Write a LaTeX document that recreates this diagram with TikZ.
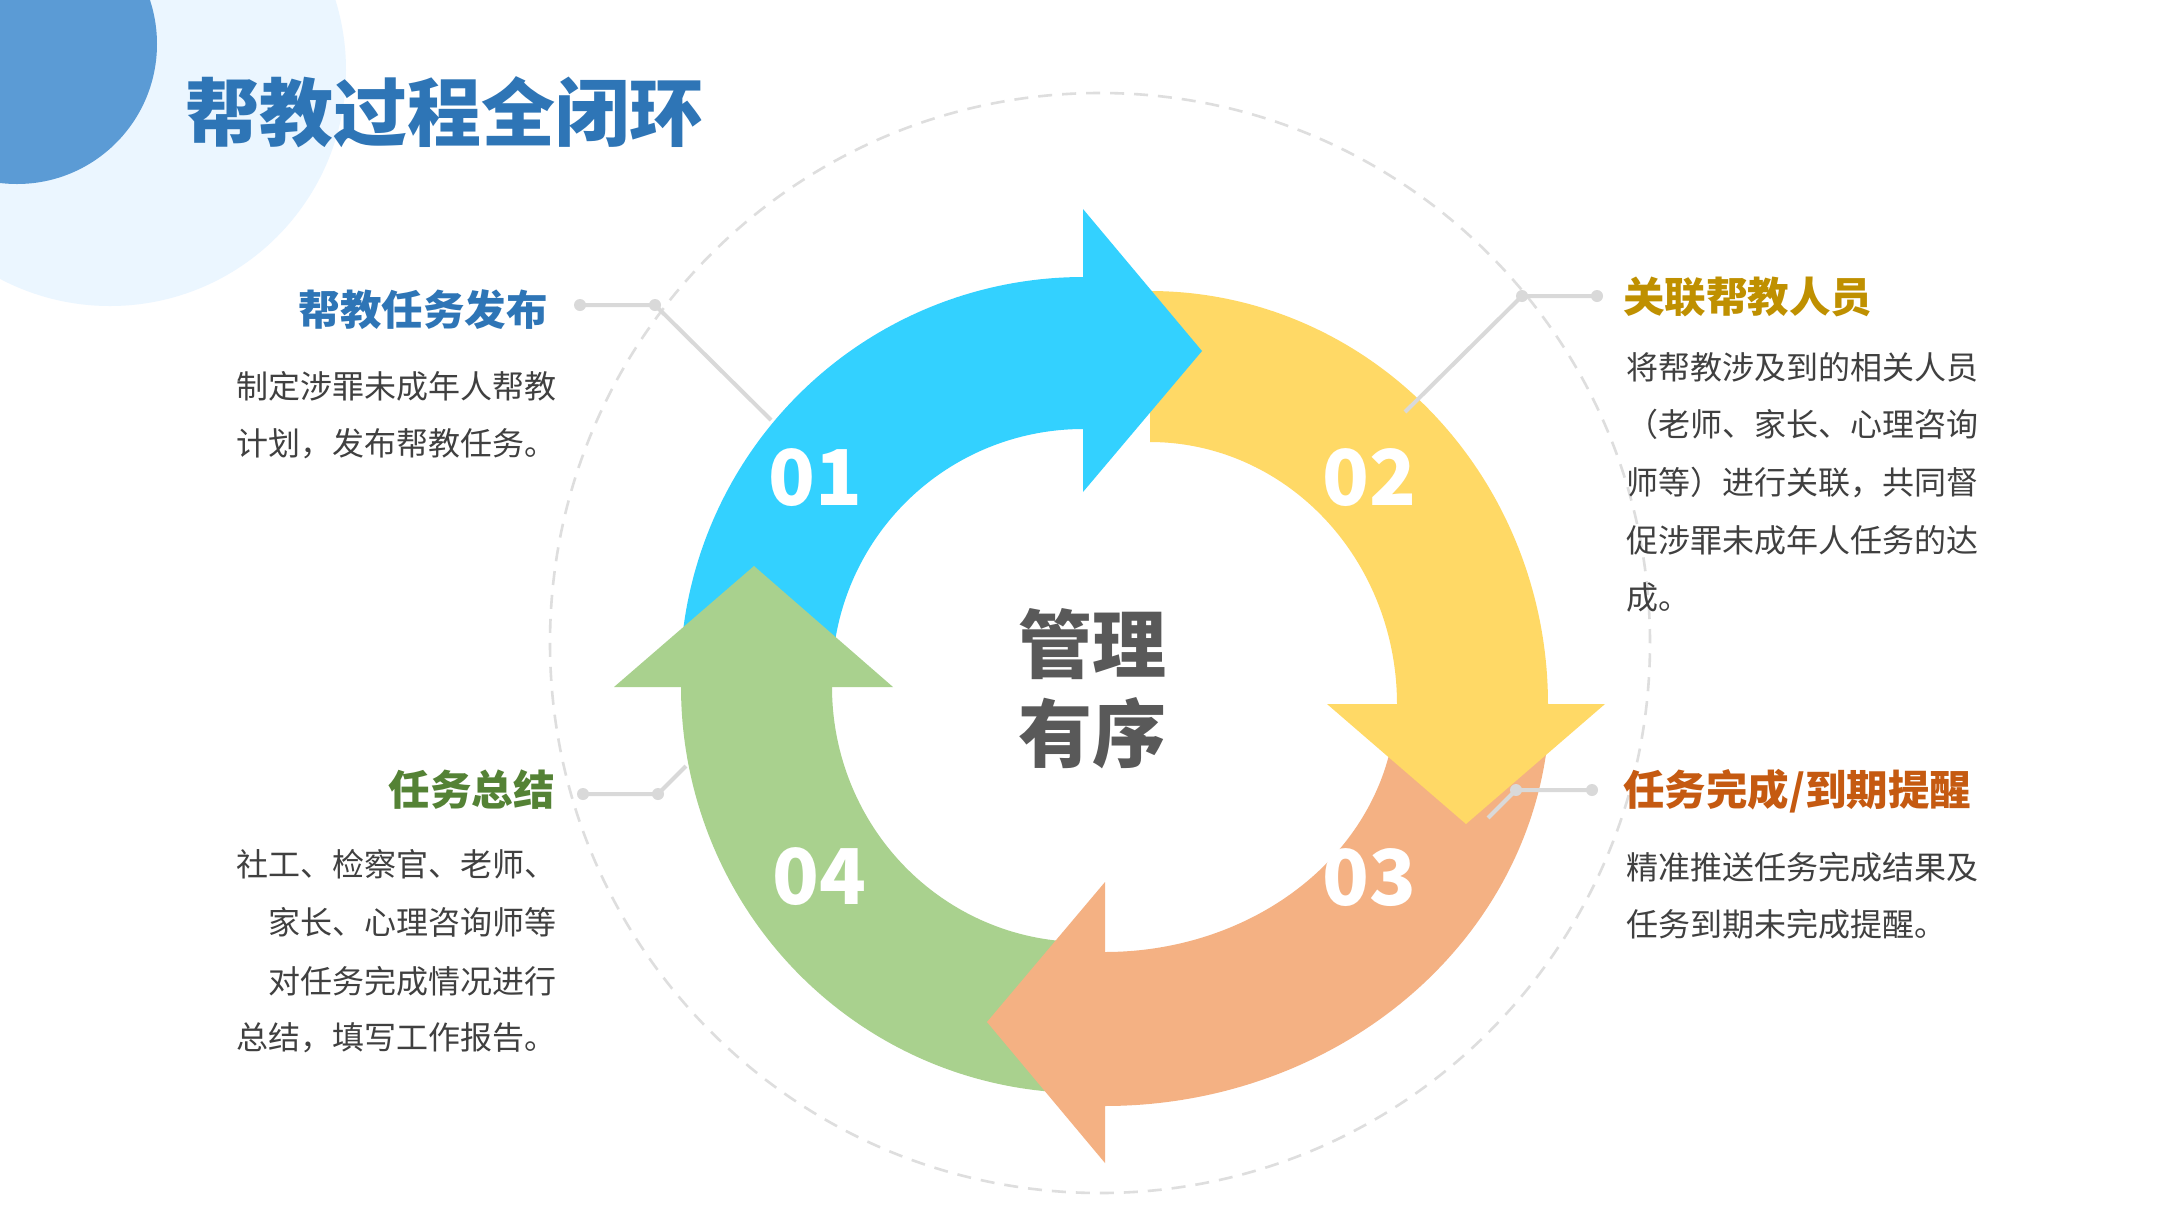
\documentclass[tikz,border=0pt]{standalone}
\usepackage{fontspec}
\setmainfont{Noto Sans CJK SC}
\definecolor{cblue}{HTML}{33D1FF}
\definecolor{cyellow}{HTML}{FFD966}
\definecolor{corange}{HTML}{F4B183}
\definecolor{cgreen}{HTML}{A9D18E}
\definecolor{ctitle}{HTML}{2E75B6}
\definecolor{cgold}{HTML}{BF9000}
\definecolor{cbrown}{HTML}{C55A11}
\definecolor{cdgreen}{HTML}{548235}
\definecolor{cbody}{HTML}{404040}
\definecolor{ccenter}{HTML}{595959}
\definecolor{cline}{HTML}{D9D9D9}
\definecolor{cdash}{HTML}{DEDEDE}
\definecolor{cdark}{HTML}{5B9BD5}
\definecolor{clight}{HTML}{EBF6FF}
\newcommand\ringseg[9]{%
  \fill[#9] plot[domain=#7:#8,samples=90] ({#1+#3*cos(\x)},{#2+#4*sin(\x)})
    -- plot[domain=#8:#7,samples=90] ({#1+#5*cos(\x)},{#2+#6*sin(\x)}) -- cycle;}
\tikzset{
  titletext/.style={font=\fontsize{37}{37}\selectfont\bfseries, text=ctitle, inner sep=0pt},
  headtext/.style={font=\fontsize{20.75}{20.75}\selectfont\bfseries, inner sep=0pt},
  bodytext/.style={font=\fontsize{16}{16}\selectfont, text=cbody, inner sep=0pt},
  numtext/.style={font=\fontsize{38.5}{38.5}\selectfont\bfseries, text=white, inner sep=0pt, anchor=base},
  centertext/.style={font=\fontsize{37}{37}\selectfont\bfseries, text=ccenter, inner sep=0pt, anchor=base},
  leader/.style={draw=cline, line width=2pt},
  leaderdot/.style={fill=cline},
}
\begin{document}
\begin{tikzpicture}[x=0.5pt,y=-0.5pt]
\useasboundingbox (0,0) rectangle (2181,1217);
\fill[white] (0,0) rectangle (2181,1217);
% decorative circles
\begin{scope}
  \clip (0,0) rectangle (2181,1217);
  \fill[clight] (110,70) circle[radius=118pt];
  \fill[cdark] (17,44) circle[radius=70pt];
\end{scope}
% dashed guide circle
\draw[cdash, line width=1.3pt, dash pattern=on 7pt off 5pt] (1100,643) circle[radius=275pt];
% ring shafts
\ringseg{1083}{680}{403}{403}{251}{251}{180}{270}{cblue}
\ringseg{1150}{704}{398}{413}{247}{262}{270}{360}{cyellow}
\ringseg{1105}{700}{445}{406}{291}{252}{2}{90}{corange}
\ringseg{1083}{687}{402}{406}{251}{255}{90}{180}{cgreen}
% arrowheads
\fill[cblue] (1083,209) -- (1202,351) -- (1083,492) -- cycle;
\fill[cyellow] (1327,704) -- (1466,824) -- (1605,704) -- cycle;
\fill[corange] (1105,882) -- (987,1022) -- (1105,1163) -- cycle;
\fill[cgreen] (614,687) -- (754,566) -- (893,687) -- cycle;
% leader lines
\coordinate (e1) at (580,305); \coordinate (j1) at (655,305); \coordinate (t1) at (771,420);
\coordinate (e2) at (1597,296); \coordinate (j2) at (1522,296); \coordinate (t2) at (1405,412);
\coordinate (e3) at (1592,790); \coordinate (j3) at (1516,790); \coordinate (t3) at (1488,818);
\coordinate (e4) at (583,794); \coordinate (j4) at (658,794); \coordinate (t4) at (686,766);
\draw[leader] (t1) -- (j1) -- (e1);
\draw[leader] (t2) -- (j2) -- (e2);
\draw[leader] (t3) -- (j3) -- (e3);
\draw[leader] (t4) -- (j4) -- (e4);
\foreach \p in {e1,j1,e2,j2,e3,j3,e4,j4}{\fill[leaderdot] (\p) circle[radius=3pt];}
% numbers
\node[numtext] (n1) at (815,505) {01};
\node[numtext] (n2) at (1369,505) {02};
\node[numtext] (n3) at (1369,905) {03};
\node[numtext] (n4) at (819,904) {04};
% center
\node[centertext] (c1) at (1092,672) {管理};
\node[centertext] (c2) at (1092,761) {有序};
% title
\node[titletext, anchor=base west] (title) at (185,140) {帮教过程全闭环};
% block 1
\node[headtext, text=ctitle, anchor=base east] (h1) at (548,325) {帮教任务发布};
\node[bodytext, anchor=base east] (b1a) at (557,398) {制定涉罪未成年人帮教};
\node[bodytext, anchor=base east] (b1b) at (557,455) {计划，发布帮教任务。};
% block 2
\node[headtext, text=cgold, anchor=base west] (h2) at (1623,312) {关联帮教人员};
\node[bodytext, anchor=base west] (b2a) at (1626,379) {将帮教涉及到的相关人员};
\node[bodytext, anchor=base west] (b2b) at (1626,436) {（老师、家长、心理咨询};
\node[bodytext, anchor=base west] (b2c) at (1626,494) {师等）进行关联，共同督};
\node[bodytext, anchor=base west] (b2d) at (1626,552) {促涉罪未成年人任务的达};
\node[bodytext, anchor=base west] (b2e) at (1626,609) {成。};
% block 3
\node[headtext, text=cbrown, anchor=base west] (h3) at (1623,805) {任务完成/到期提醒};
\node[bodytext, anchor=base west] (b3a) at (1626,879) {精准推送任务完成结果及};
\node[bodytext, anchor=base west] (b3b) at (1626,936) {任务到期未完成提醒。};
% block 4
\node[headtext, text=cdgreen, anchor=base east] (h4) at (555,805) {任务总结};
\node[bodytext, anchor=base east] (b4a) at (557,876) {社工、检察官、老师、};
\node[bodytext, anchor=base east] (b4b) at (557,934) {家长、心理咨询师等};
\node[bodytext, anchor=base east] (b4c) at (557,993) {对任务完成情况进行};
\node[bodytext, anchor=base east] (b4d) at (557,1049) {总结，填写工作报告。};
\end{tikzpicture}
\end{document}
